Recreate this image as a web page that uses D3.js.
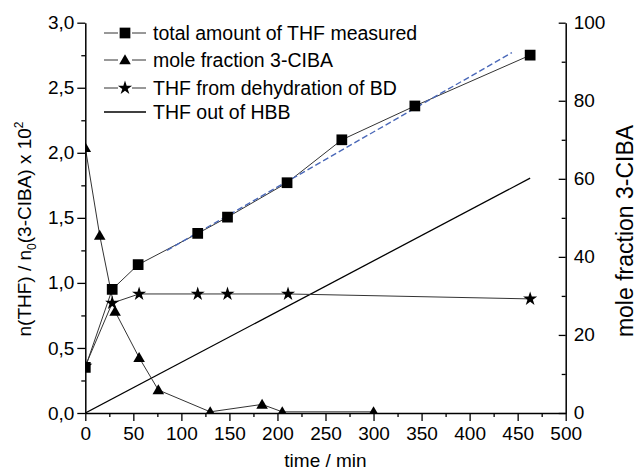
<!DOCTYPE html>
<html>
<head>
<meta charset="utf-8">
<script src="https://cdn.jsdelivr.net/npm/d3@7"></script>
<style>
  html, body { margin: 0; padding: 0; background: #fff; }
  svg { display: block; font-family: "Liberation Sans", Arial, sans-serif; }
</style>
</head>
<body>
<svg id="chart" width="637" height="472"></svg>
<script>
// ---- data ----
const timeTotal = [0, 28, 55, 117, 148, 210, 267, 343, 463];
const thfTotal  = [0.35, 0.95, 1.14, 1.38, 1.505, 1.77, 2.10, 2.36, 2.75];

const timeClBA  = [0, 15, 31, 56, 76, 130, 184, 205, 300];
const moleClBA  = [68, 45.5, 26, 14.2, 5.9, 0.3, 2.2, 0.3, 0.3];

const timeStar  = [0, 28, 56, 117, 148, 211, 463];
const thfStar   = [0.36, 0.845, 0.915, 0.915, 0.915, 0.915, 0.877];

const timeHBB   = [0, 463];
const thfHBB    = [0, 1.805];

const timeFit   = [85, 444];
const thfFit    = [1.25, 2.77];

const xTicks      = [0, 50, 100, 150, 200, 250, 300, 350, 400, 450, 500];
const leftTicks   = [0, 0.5, 1.0, 1.5, 2.0, 2.5, 3.0];
const rightTicks  = [0, 20, 40, 60, 80, 100];

const legendLabels = ["total amount of THF measured", "mole fraction 3-CIBA",
                      "THF from dehydration of BD", "THF out of HBB"];

// ---- layout ----
const svg = d3.select("#chart");
const L = 85.3, R = 565.7, T = 22.7, B = 413;
const x  = d3.scaleLinear().domain([0, 500]).range([L, R]);
const yL = d3.scaleLinear().domain([0, 3]).range([B, T]);
const yR = d3.scaleLinear().domain([0, 100]).range([B, T]);
const FS = 19;

svg.append("defs").append("clipPath").attr("id", "clip")
  .append("rect").attr("x", L).attr("y", 0).attr("width", R - L + 20).attr("height", B);

const plot = svg.append("g").attr("clip-path", "url(#clip)");

const zip = (a, b) => a.map((v, i) => [v, b[i]]);
const lineL = d3.line().x(d => x(d[0])).y(d => yL(d[1]));
const lineR = d3.line().x(d => x(d[0])).y(d => yR(d[1]));

// HBB straight line
plot.append("path").attr("d", lineL(zip(timeHBB, thfHBB)))
  .attr("fill", "none").attr("stroke", "#000").attr("stroke-width", 1.3);

// series lines
plot.append("path").attr("d", lineL(zip(timeTotal, thfTotal)))
  .attr("fill", "none").attr("stroke", "#333").attr("stroke-width", 1);
plot.append("path").attr("d", lineL(zip(timeStar, thfStar)))
  .attr("fill", "none").attr("stroke", "#333").attr("stroke-width", 1);
plot.append("path").attr("d", lineR(zip(timeClBA, moleClBA)))
  .attr("fill", "none").attr("stroke", "#333").attr("stroke-width", 1);

// blue dashed fit
plot.append("path").attr("d", lineL(zip(timeFit, thfFit)))
  .attr("fill", "none").attr("stroke", "#4a68b8").attr("stroke-width", 1.4)
  .attr("stroke-dasharray", "6,3");

// markers
const sq = d3.symbol().type(d3.symbolSquare).size(115)();
const tri = d3.symbol().type(d3.symbolTriangle).size(58)();
const star = d3.symbol().type(d3.symbolStar).size(62)();

plot.selectAll(".sq").data(zip(timeTotal, thfTotal)).enter().append("path")
  .attr("d", sq).attr("transform", d => `translate(${x(d[0])},${yL(d[1])})`).attr("fill", "#000");
plot.selectAll(".tri").data(zip(timeClBA, moleClBA)).enter().append("path")
  .attr("d", tri).attr("transform", d => `translate(${x(d[0])},${yR(d[1]) + 1})`).attr("fill", "#000");
plot.selectAll(".star").data(zip(timeStar, thfStar)).enter().append("path")
  .attr("d", star).attr("transform", d => `translate(${x(d[0])},${yL(d[1])})`).attr("fill", "#000");

// ---- axes ----
const fmtL = d => d3.format(".1f")(d).replace(".", ",");
function styleAxis(g) {
  g.select(".domain").attr("stroke", "#000").attr("stroke-width", 1.5);
  g.selectAll(".tick line").attr("stroke", "#000").attr("stroke-width", 1.3);
  g.selectAll("text").attr("font-size", FS).attr("fill", "#000")
    .attr("font-family", "'Liberation Sans', Arial, sans-serif");
}
// minor ticks
const xMinor = d3.range(25, 500, 50);
const lMinor = d3.range(0.25, 3, 0.5);
const rMinor = d3.range(10, 100, 20);

svg.append("g").attr("transform", `translate(0,${B})`)
  .call(d3.axisBottom(x).tickValues(xMinor).tickSize(4).tickFormat(""))
  .call(g => { g.select(".domain").remove(); g.selectAll("line").attr("stroke", "#000").attr("stroke-width", 1.3); });
svg.append("g").attr("transform", `translate(${L},0)`)
  .call(d3.axisLeft(yL).tickValues(lMinor).tickSize(4).tickFormat(""))
  .call(g => { g.select(".domain").remove(); g.selectAll("line").attr("stroke", "#000").attr("stroke-width", 1.3); });
svg.append("g").attr("transform", `translate(${R},0)`)
  .call(d3.axisLeft(yR).tickValues(rMinor).tickSize(4).tickFormat(""))
  .call(g => { g.select(".domain").remove(); g.selectAll("line").attr("stroke", "#000").attr("stroke-width", 1.3); });

const gx = svg.append("g").attr("transform", `translate(0,${B})`)
  .call(d3.axisBottom(x).tickValues(xTicks).tickSize(8).tickSizeOuter(0).tickPadding(6).tickFormat(d3.format("d")))
  .call(styleAxis);

const gl = svg.append("g").attr("transform", `translate(${L},0)`)
  .call(d3.axisLeft(yL).tickValues(leftTicks).tickSize(8).tickSizeOuter(0).tickPadding(3).tickFormat(fmtL))
  .call(styleAxis);

const gr = svg.append("g").attr("transform", `translate(${R},0)`)
  .call(d3.axisRight(yR).tickValues(rightTicks).tickSize(0).tickSizeOuter(0).tickPadding(8).tickFormat(d3.format("d")))
  .call(styleAxis);
gr.selectAll(".tick line").attr("x2", -7);
gr.selectAll(".tick text").attr("dy", "0.3em");

// ---- axis titles ----
svg.append("text").attr("x", (L + R) / 2).attr("y", 467).attr("text-anchor", "middle")
  .attr("font-size", FS).text("time / min");

const lt = svg.append("text").attr("transform", "translate(31,229) rotate(-90)")
  .attr("text-anchor", "middle").attr("font-size", FS);
lt.append("tspan").text("n(THF) / n");
lt.append("tspan").attr("font-size", 12).attr("dy", 5).text("0");
lt.append("tspan").attr("dy", -5).text("(3-CIBA) x 10");
lt.append("tspan").attr("font-size", 12).attr("dy", -8).text("2");

svg.append("text").attr("transform", "translate(633,231) rotate(-90)")
  .attr("text-anchor", "middle").attr("font-size", 23).text("mole fraction 3-CIBA");

// ---- legend ----
const legRows = [33, 60, 88, 112];
const legSyms = [sq, tri, star, null];
const leg = svg.append("g");
legRows.forEach((yy, i) => {
  if (legSyms[i]) {
    leg.append("line").attr("x1", 104).attr("x2", 118).attr("y1", yy).attr("y2", yy).attr("stroke", "#333").attr("stroke-width", 1);
    leg.append("line").attr("x1", 132).attr("x2", 146).attr("y1", yy).attr("y2", yy).attr("stroke", "#333").attr("stroke-width", 1);
    leg.append("path").attr("d", legSyms[i]).attr("transform", `translate(125,${yy + (i === 1 ? 1 : 0)})`).attr("fill", "#000");
  } else {
    leg.append("line").attr("x1", 104).attr("x2", 146).attr("y1", yy).attr("y2", yy).attr("stroke", "#000").attr("stroke-width", 1.3);
  }
  leg.append("text").attr("x", 153).attr("y", yy).attr("dy", "0.35em")
    .attr("font-size", 19.5).text(legendLabels[i]);
});
</script>
</body>
</html>
